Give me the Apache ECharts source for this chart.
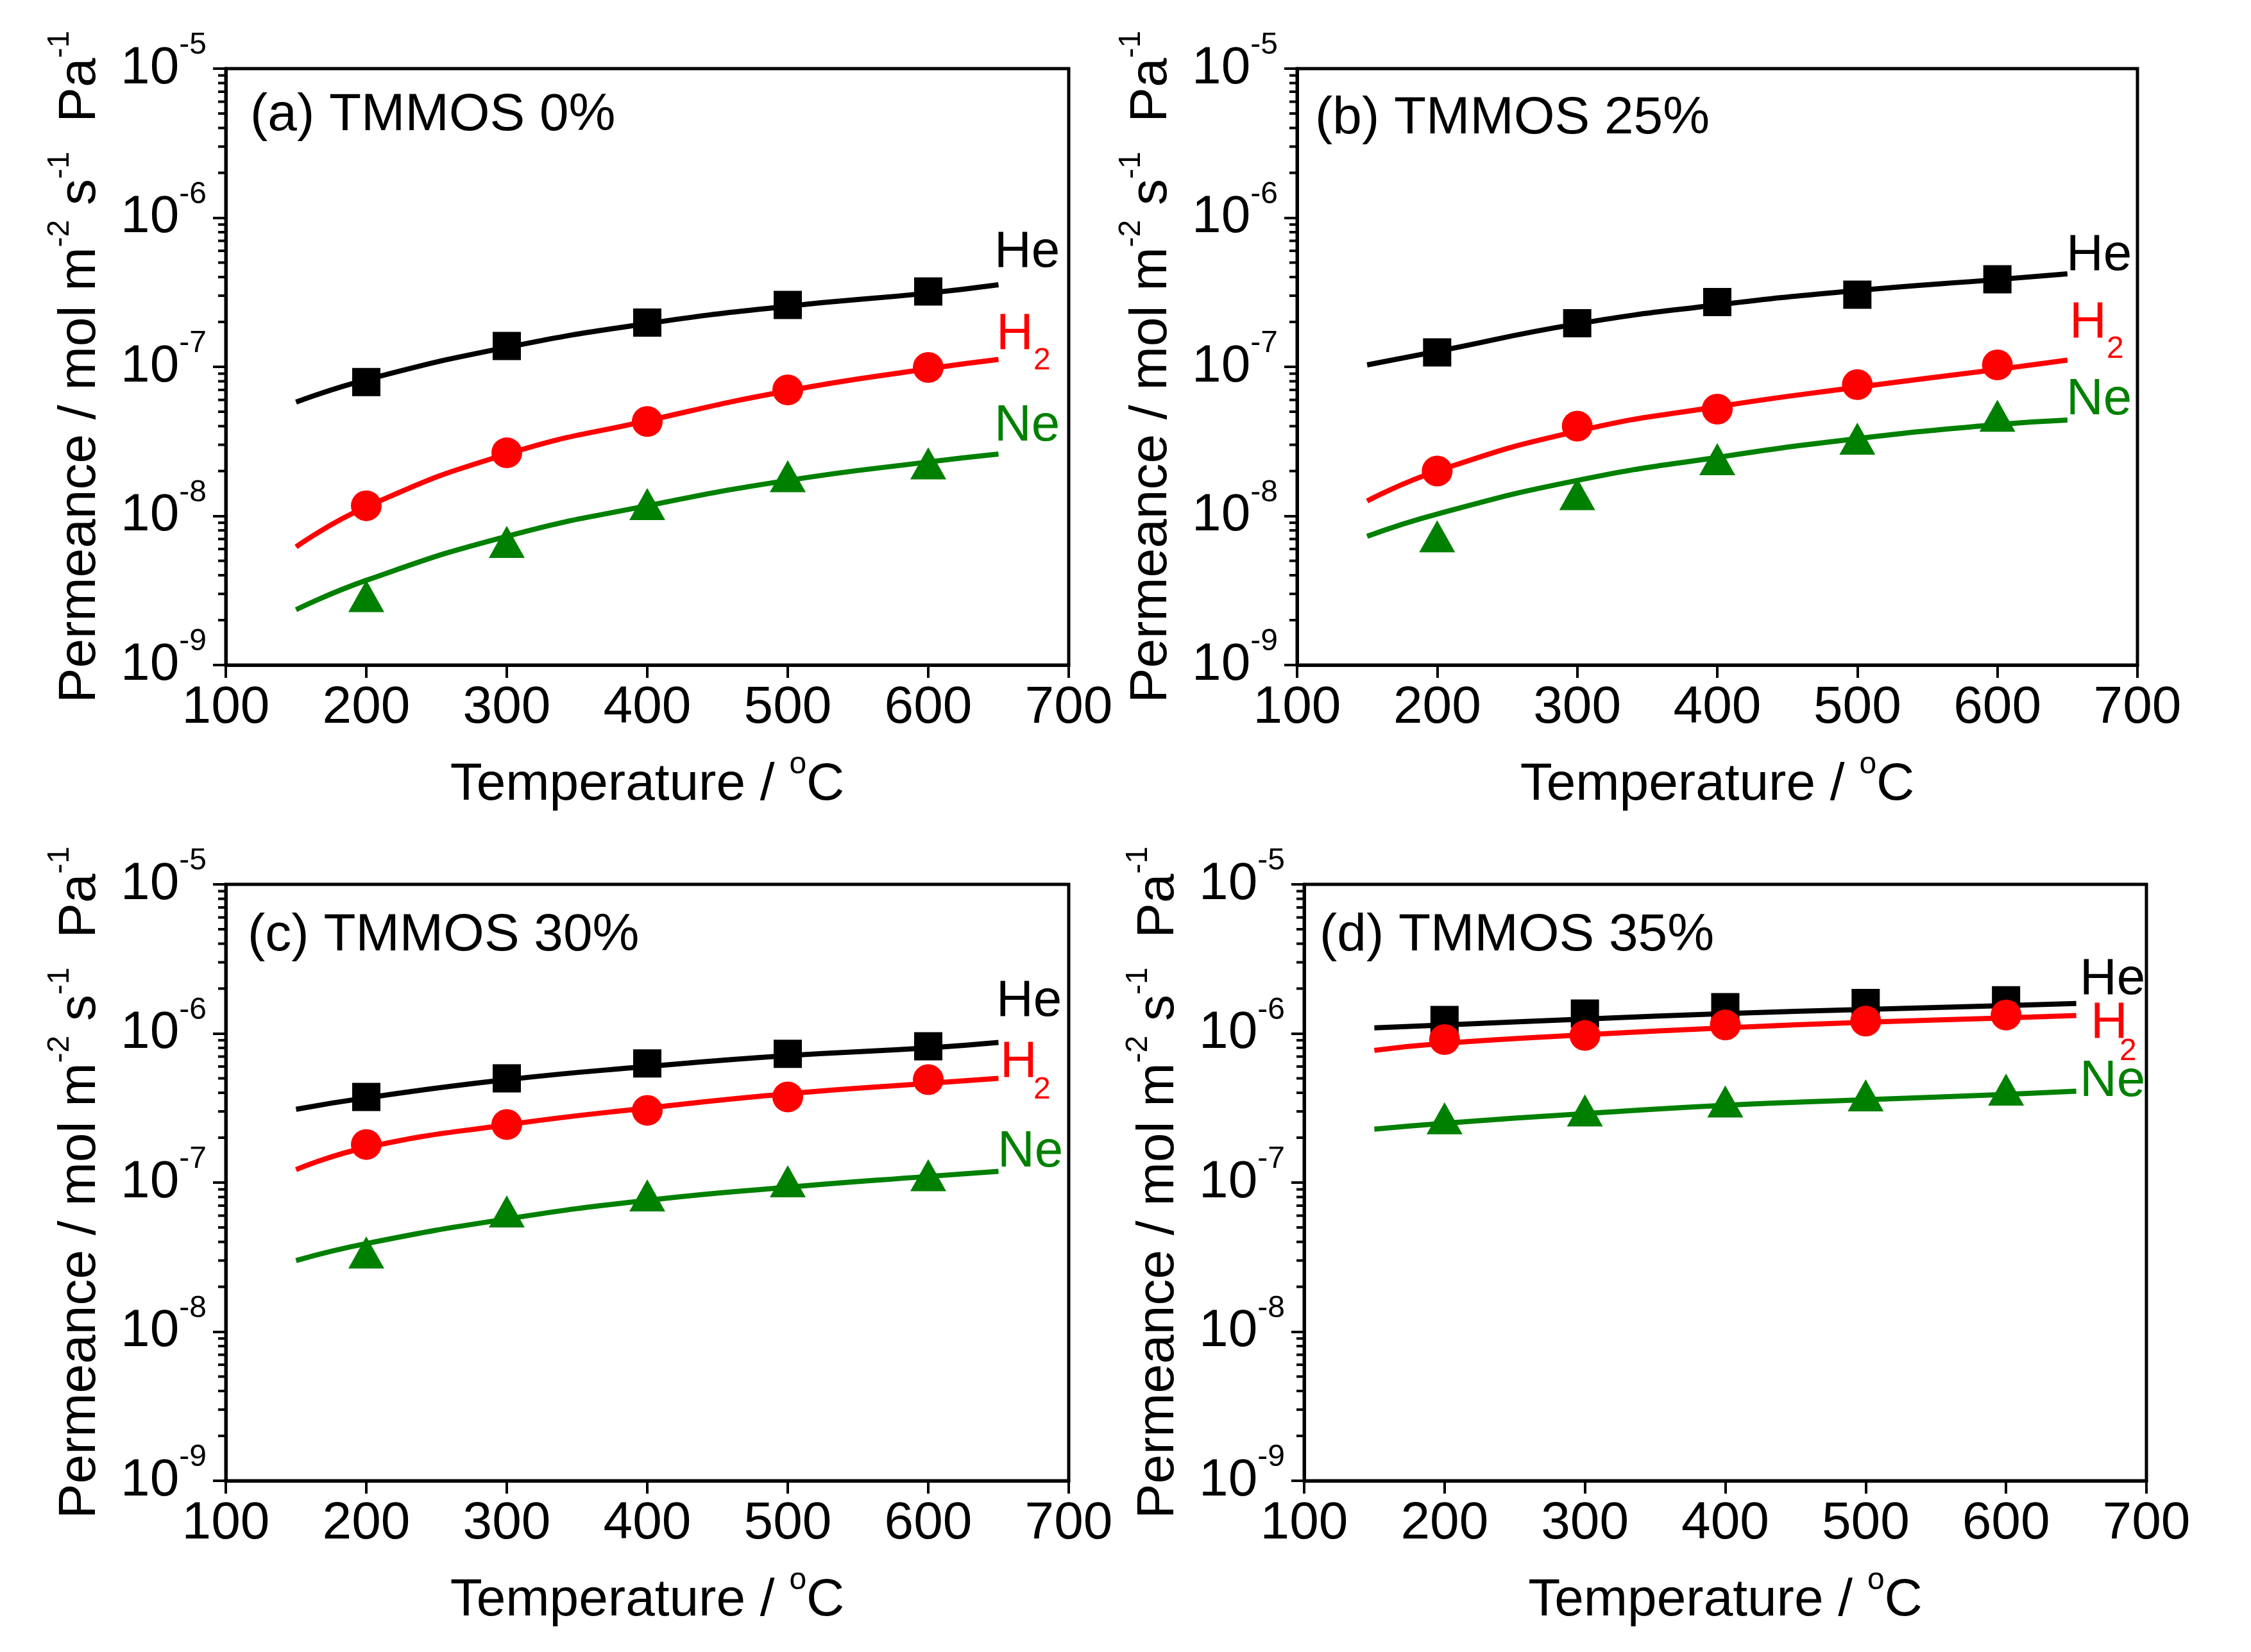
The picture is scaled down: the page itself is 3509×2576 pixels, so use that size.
<!DOCTYPE html>
<html><head><meta charset="utf-8">
<script src="https://cdn.jsdelivr.net/npm/echarts@6/dist/echarts.min.js"></script>
<style>html,body{margin:0;padding:0;background:#fff}#c{width:3509px;height:2576px}</style>
</head><body><div id="c"></div><script>
// ---------- data ----------
const temps = [200, 300, 400, 500, 600];          // measured points (°C)
const fitTemps = [150, 200, 300, 400, 500, 600, 650]; // points
const xTicks = [100, 200, 300, 400, 500, 600, 700];
const yDecades = [-9, -8, -7, -6, -5];
const minorMantissas = [2, 3, 4, 5, 6, 7, 8, 9];
const panelTitles = ['(a) TMMOS 0%', '(b) TMMOS 25%', '(c) TMMOS 30%', '(d) TMMOS 35%'];
const gases = ['He', 'H2', 'Ne'];

// panel (a) TMMOS 0%
const heA = [7.9e-8, 1.38e-7, 1.98e-7, 2.6e-7, 3.2e-7];
const h2A = [1.17e-8, 2.65e-8, 4.3e-8, 7.0e-8, 9.9e-8];
const neA = [2.9e-9, 6.7e-9, 1.2e-8, 1.85e-8, 2.25e-8];
const heFitA = [5.8e-8, 8.2e-8, 1.35e-7, 1.95e-7, 2.55e-7, 3.12e-7, 3.55e-7];
const h2FitA = [6.2e-9, 1.15e-8, 2.6e-8, 4.35e-8, 6.9e-8, 9.7e-8, 1.12e-7];
const neFitA = [2.35e-9, 3.7e-9, 7.3e-9, 1.17e-8, 1.73e-8, 2.3e-8, 2.6e-8];
// panel (b) TMMOS 25%
const heB = [1.25e-7, 1.96e-7, 2.72e-7, 3.05e-7, 3.86e-7];
const h2B = [2.0e-8, 4.0e-8, 5.2e-8, 7.6e-8, 1.03e-7];
const neB = [7.3e-9, 1.4e-8, 2.4e-8, 3.3e-8, 4.7e-8];
const heFitB = [1.03e-7, 1.27e-7, 1.94e-7, 2.6e-7, 3.25e-7, 3.85e-7, 4.2e-7];
const h2FitB = [1.26e-8, 2.0e-8, 3.7e-8, 5.4e-8, 7.3e-8, 9.6e-8, 1.11e-7];
const neFitB = [7.3e-9, 1.03e-8, 1.73e-8, 2.47e-8, 3.3e-8, 4.1e-8, 4.4e-8];
// panel (c) TMMOS 30%
const heC = [3.75e-7, 5.0e-7, 6.3e-7, 7.3e-7, 8.2e-7];
const h2C = [1.8e-7, 2.45e-7, 3.05e-7, 3.75e-7, 4.9e-7];
const neC = [3.4e-8, 6.4e-8, 8.2e-8, 1.02e-7, 1.12e-7];
const heFitC = [3.1e-7, 3.7e-7, 4.9e-7, 6.0e-7, 7.1e-7, 8.0e-7, 8.7e-7];
const h2FitC = [1.22e-7, 1.72e-7, 2.44e-7, 3.16e-7, 3.94e-7, 4.63e-7, 5.0e-7];
const neFitC = [3.0e-8, 3.9e-8, 5.7e-8, 7.6e-8, 9.3e-8, 1.1e-7, 1.19e-7];
// panel (d) TMMOS 35%
const heD = [1.23e-6, 1.36e-6, 1.5e-6, 1.6e-6, 1.67e-6];
const h2D = [9.1e-7, 9.7e-7, 1.14e-6, 1.21e-6, 1.33e-6];
const neD = [2.7e-7, 3.05e-7, 3.5e-7, 3.85e-7, 4.2e-7];
const heFitD = [1.09e-6, 1.14e-6, 1.25e-6, 1.36e-6, 1.45e-6, 1.54e-6, 1.59e-6];
const h2FitD = [7.7e-7, 8.6e-7, 9.8e-7, 1.09e-6, 1.19e-6, 1.27e-6, 1.32e-6];
const neFitD = [2.28e-7, 2.5e-7, 2.9e-7, 3.3e-7, 3.6e-7, 3.9e-7, 4.1e-7];

// ---------- layout / style ----------
const FONT = '"Liberation Sans", Arial, sans-serif';
const COLORS = ['#000000', '#ff0000', '#008000'];
const SYMBOLS = ['rect', 'circle', 'triangle'];
const SYMSIZE = [44, 48, [56, 50]];
const grids = [
  {left: 352, top: 107, width: 1314, height: 930},
  {left: 2022, top: 107, width: 1310, height: 930},
  {left: 352, top: 1379, width: 1314, height: 930},
  {left: 2033, top: 1379, width: 1313, height: 930}
];
const panels = [
  {pts: [heA, h2A, neA], fits: [heFitA, h2FitA, neFitA]},
  {pts: [heB, h2B, neB], fits: [heFitB, h2FitB, neFitB]},
  {pts: [heC, h2C, neC], fits: [heFitC, h2FitC, neFitC]},
  {pts: [heD, h2D, neD], fits: [heFitD, h2FitD, neFitD]}
];
// gas label anchors [x(left), y(middle)] per panel: He, H, subscript 2, Ne
const labelPos = [
  {he: [1550, 394], h: [1553, 522], sub: [1611, 563], ne: [1550, 665]},
  {he: [3221, 399], h: [3226, 504], sub: [3284, 545], ne: [3221, 624]},
  {he: [1553, 1562], h: [1559, 1657], sub: [1611, 1700], ne: [1555, 1797]},
  {he: [3242, 1528], h: [3259, 1596], sub: [3304, 1640], ne: [3242, 1687]}
];
const titlePos = [[390, 180], [2050, 185], [386, 1459], [2057, 1459]];

const minorVals = [];
yDecades.slice(0, -1).forEach(d => minorMantissas.forEach(m => minorVals.push(m * Math.pow(10, d))));

const xAxes = [], yAxes = [], series = [], graphics = [];
grids.forEach((g, i) => {
  xAxes.push({
    gridIndex: i, type: 'value', min: xTicks[0], max: xTicks[xTicks.length - 1], interval: 100,
    axisLine: {show: true, onZero: false, lineStyle: {color: '#000', width: 5}},
    axisTick: {show: true, length: 20, lineStyle: {color: '#000', width: 4}},
    axisLabel: {fontSize: 82, color: '#000', fontFamily: FONT, margin: 26},
    splitLine: {show: false},
    name: '{t|Temperature / }{s|o}{t|C}', nameLocation: 'middle', nameGap: 132,
    nameTextStyle: {color: '#000', fontFamily: FONT, fontSize: 82,
      rich: {t: {fontSize: 82, fontFamily: FONT, color: '#000', lineHeight: 110},
             s: {fontSize: 48, fontFamily: FONT, color: '#000', lineHeight: 48, verticalAlign: 'top'}}}
  });
  yAxes.push({
    gridIndex: i, type: 'log', logBase: 10, min: 1e-9, max: 1e-5, splitNumber: 4,
    axisLine: {show: true, onZero: false, lineStyle: {color: '#000', width: 5}},
    axisTick: {show: true, length: 20, lineStyle: {color: '#000', width: 4}},
    axisLabel: {
      margin: 30,
      formatter: v => '{b|10}{s|' + Math.round(Math.log10(v)) + '}',
      rich: {b: {fontSize: 82, fontFamily: FONT, color: '#000', lineHeight: 120},
             s: {fontSize: 48, fontFamily: FONT, color: '#000', lineHeight: 48, verticalAlign: 'top'}}
    },
    splitLine: {show: false},
    name: '{t|Permeance / mol m}{s|-2}{t| s}{s|-1}{t|  Pa}{s|-1}', nameLocation: 'middle', nameGap: 172, nameRotate: 90,
    nameTextStyle: {color: '#000', fontFamily: FONT, fontSize: 82,
      rich: {t: {fontSize: 82, fontFamily: FONT, color: '#000', lineHeight: 110},
             s: {fontSize: 48, fontFamily: FONT, color: '#000', lineHeight: 48, verticalAlign: 'top'}}}
  });
  const p = panels[i];
  // fitted curves
  p.fits.forEach((arr, k) => {
    series.push({
      type: 'line', xAxisIndex: i, yAxisIndex: i, name: gases[k] + ' fit',
      data: fitTemps.map((t, j) => [t, arr[j]]), smooth: true, symbol: 'none', showSymbol: false,
      lineStyle: {color: COLORS[k], width: 8}, silent: true, z: 2, animation: false
    });
  });
  // measured points
  p.pts.forEach((arr, k) => {
    series.push({
      type: 'scatter', xAxisIndex: i, yAxisIndex: i, name: gases[k],
      data: temps.map((t, j) => [t, arr[j]]), symbol: SYMBOLS[k], symbolSize: SYMSIZE[k],
      itemStyle: {color: COLORS[k], opacity: 1}, z: 3 + k, animation: false
    });
  });
  // minor ticks on the log axis
  series.push({
    type: 'custom', xAxisIndex: i, yAxisIndex: i, silent: true, z: 10, clip: false, animation: false,
    data: minorVals.map(v => [xTicks[0], v]),
    renderItem: (params, api) => {
      const c = api.coord([api.value(0), api.value(1)]);
      return {type: 'line', shape: {x1: c[0] - 12, y1: c[1], x2: c[0], y2: c[1]},
              style: {stroke: '#000', lineWidth: 4}};
    }
  });
  // texts
  const txt = (s, x, y, size, color) => ({
    type: 'text', x: x, y: y, silent: true, z: 20,
    style: {text: s, fontSize: size, fontFamily: FONT, fill: color,
            align: 'left', textAlign: 'left', verticalAlign: 'middle', textVerticalAlign: 'middle'}
  });
  graphics.push(txt(panelTitles[i], titlePos[i][0], titlePos[i][1], 82, '#000'));
  const L = labelPos[i];
  graphics.push(txt('He', L.he[0], L.he[1], 80, COLORS[0]));
  graphics.push(txt('H', L.h[0], L.h[1], 80, COLORS[1]));
  graphics.push(txt('2', L.sub[0], L.sub[1], 48, COLORS[1]));
  graphics.push(txt('Ne', L.ne[0], L.ne[1], 80, COLORS[2]));
});

const chart = echarts.init(document.getElementById('c'), null, {renderer: 'canvas'});
chart.setOption({
  backgroundColor: '#fff',
  animation: false,
  grid: grids.map(g => Object.assign({show: true, borderColor: '#000', borderWidth: 5, backgroundColor: 'transparent'}, g)),
  xAxis: xAxes, yAxis: yAxes, series: series, graphic: graphics
});
</script></body></html>
